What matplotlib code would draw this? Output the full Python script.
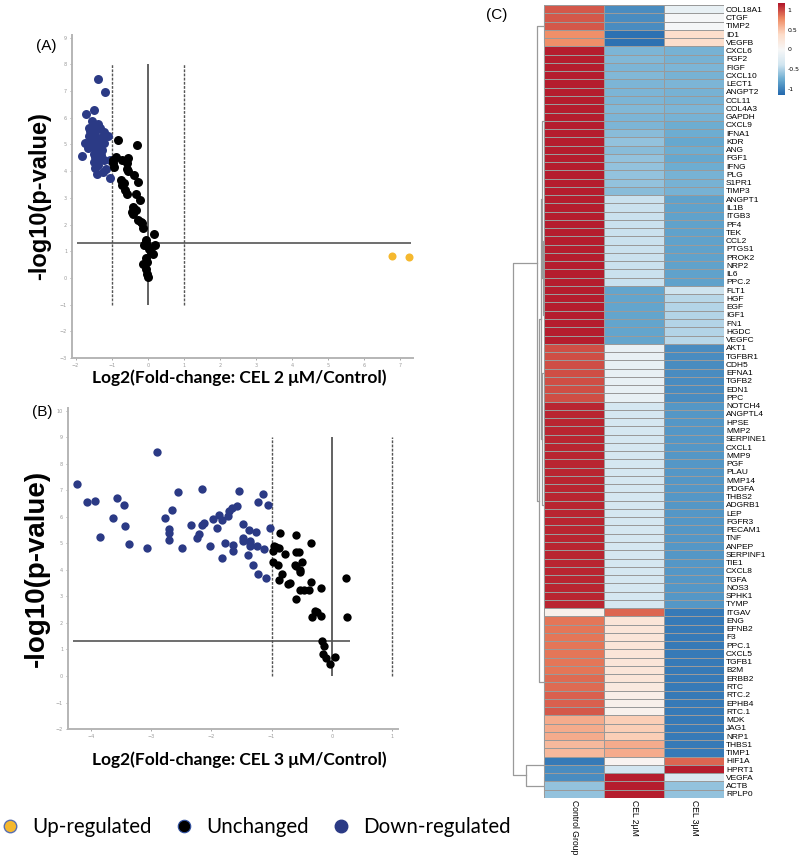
import numpy as np
import matplotlib
matplotlib.use("Agg")
import matplotlib.pyplot as plt
from matplotlib.colors import LinearSegmentedColormap
from matplotlib.lines import Line2D

# ---- panel A: CEL 2 uM vs control ----
a_down_x = [-1.37, -1.19, -1.71, -1.49, -1.55, -1.37, -1.62, -1.55, -1.60, -1.43, -1.50, -1.20,
            -1.11, -1.45, -1.75, -1.52, -1.29, -1.20, -1.66, -1.47, -1.35, -1.43, -1.50, -1.83,
            -1.45, -1.20, -1.06, -1.48, -1.38, -1.45, -1.41, -1.24, -1.06, -1.15, -1.58, -1.38,
            -1.30, -1.55, -1.25, -1.62, -1.35, -1.28, -1.40, -1.50, -1.33, -1.57, -1.42]
a_down_y = [7.45, 6.98, 6.16, 6.29, 5.88, 5.75, 5.60, 5.58, 5.50, 5.54, 5.45, 5.48,
            5.33, 5.35, 5.04, 5.10, 5.10, 5.04, 4.85, 4.85, 4.90, 4.72, 4.65, 4.58,
            4.54, 4.41, 4.41, 4.35, 4.25, 4.12, 3.91, 3.98, 3.76, 4.10, 5.20, 5.20,
            4.60, 4.95, 5.30, 5.30, 4.45, 4.80, 5.00, 5.65, 5.62, 5.42, 4.50]
a_same_x = [-0.82, -0.30, -0.88, -0.97, -0.95, -0.94, -0.70, -0.54, -0.58, -0.58, -0.56, -0.74,
            -0.67, -0.70, -0.62, -0.58, -0.38, -0.28, -0.33, -0.21, -0.42, -0.38, -0.33, -0.45,
            -0.40, -0.28, -0.19, -0.15, -0.12, 0.17, -0.06, -0.08, -0.01, -0.10, 0.19, 0.08,
            0.15, 0.04, -0.06, -0.12, -0.03, -0.04, -0.01, 0.01]
a_same_y = [5.16, 4.98, 4.54, 4.41, 4.29, 4.16, 4.41, 4.48, 4.29, 4.10, 4.00, 3.66,
            3.54, 3.48, 3.29, 3.16, 3.85, 3.58, 3.16, 2.91, 2.66, 2.60, 2.54, 2.48,
            2.41, 2.16, 2.10, 2.04, 1.88, 1.64, 1.41, 1.29, 1.23, 1.25, 1.25, 0.98,
            0.91, 1.10, 0.73, 0.54, 0.60, 0.35, 0.16, 0.04]
a_up_x = [6.78, 7.25]
a_up_y = [0.84, 0.80]

# ---- panel B: CEL 3 uM vs control ----
b_down_x = [-4.23, -4.06, -3.93, -3.85, -3.64, -3.57, -3.45, -3.43, -3.37, -3.06, -2.90, -2.77,
            -2.70, -2.70, -2.71, -2.65, -2.55, -2.48, -2.33, -2.23, -2.20, -2.16, -2.12, -2.15,
            -2.03, -1.97, -1.90, -1.88, -1.83, -1.83, -1.77, -1.73, -1.70, -1.66, -1.64, -1.64,
            -1.58, -1.54, -1.48, -1.48, -1.47, -1.39, -1.37, -1.36, -1.35, -1.36, -1.30, -1.26,
            -1.24, -1.22, -1.23, -1.15, -1.13, -1.09, -1.06, -1.03]
b_down_y = [7.24, 6.55, 6.59, 5.24, 5.96, 6.71, 6.46, 5.65, 4.96, 4.81, 8.46, 5.94,
            5.53, 5.38, 5.14, 6.25, 6.95, 4.81, 5.68, 5.21, 5.36, 5.68, 5.75, 7.03,
            4.90, 5.93, 5.59, 6.05, 5.88, 4.43, 5.00, 6.03, 6.21, 6.34, 4.94, 4.71,
            6.40, 6.99, 5.71, 5.21, 5.09, 4.55, 5.50, 5.09, 5.00, 4.90, 4.18, 5.43,
            4.90, 3.84, 6.56, 6.85, 4.80, 3.71, 6.46, 5.56]
b_same_x = [-0.98, -0.96, -0.93, -0.98, -0.86, -0.87, -0.89, -0.82, -0.87, -0.78, -0.72, -0.70,
            -0.60, -0.60, -0.54, -0.61, -0.59, -0.50, -0.52, -0.53, -0.59, -0.53, -0.46, -0.38,
            -0.35, -0.34, -0.18, -0.32, -0.27, -0.24, -0.18, -0.17, -0.13, -0.15, -0.10, -0.03,
            0.06, 0.24, 0.26]
b_same_y = [4.71, 4.90, 4.85, 4.28, 5.38, 4.84, 4.19, 3.84, 3.63, 4.58, 3.46, 3.50,
            5.30, 4.68, 4.68, 4.18, 4.15, 4.28, 4.00, 3.93, 2.90, 3.25, 3.25, 3.25,
            3.53, 5.03, 3.30, 2.21, 2.45, 2.40, 2.25, 1.31, 1.13, 0.84, 0.68, 0.46,
            0.73, 3.68, 2.21]

# ---- panel C: heatmap ----
genes = ["COL18A1", "CTGF", "TIMP2", "ID1", "VEGFB", "CXCL6", "FGF2", "FIGF", "CXCL10", "LECT1",
         "ANGPT2", "CCL11", "COL4A3", "GAPDH", "CXCL9", "IFNA1", "KDR", "ANG", "FGF1", "IFNG",
         "PLG", "S1PR1", "TIMP3", "ANGPT1", "IL1B", "ITGB3", "PF4", "TEK", "CCL2", "PTGS1",
         "PROK2", "NRP2", "IL6", "PPC.2", "FLT1", "HGF", "EGF", "IGF1", "FN1", "HGDC",
         "VEGFC", "AKT1", "TGFBR1", "CDH5", "EFNA1", "TGFB2", "EDN1", "PPC", "NOTCH4", "ANGPTL4",
         "HPSE", "MMP2", "SERPINE1", "CXCL1", "MMP9", "PGF", "PLAU", "MMP14", "PDGFA", "THBS2",
         "ADGRB1", "LEP", "FGFR3", "PECAM1", "TNF", "ANPEP", "SERPINF1", "TIE1", "CXCL8", "TGFA",
         "NOS3", "SPHK1", "TYMP", "ITGAV", "ENG", "EFNB2", "F3", "PPC.1", "CXCL5", "TGFB1",
         "B2M", "ERBB2", "RTC", "RTC.2", "EPHB4", "RTC.1", "MDK", "JAG1", "NRP1", "THBS1",
         "TIMP1", "HIF1A", "HPRT1", "VEGFA", "ACTB", "RPLP0"]
conditions = ["Control Group", "CEL 2\u03bcM", "CEL 3\u03bcM"]

control = ([0.95, 0.95, 0.95, 0.75, 0.75] + [1.15] * 36 + [0.98] * 7 + [1.12] * 25 + [0.1]
           + [0.85] * 7 + [0.88, 0.88, 0.92, 0.92, 0.95]
           + [0.62, 0.62, 0.62, 0.55, 0.55] + [-1.05, -0.95, -0.95, -0.62, -0.62])
cel2 = ([-0.95, -0.95, -0.95, -1.1, -1.1]
        + [-0.70, -0.68, -0.70, -0.68, -0.70, -0.70, -0.70, -0.68, -0.70, -0.70, -0.65, -0.62,
           -0.65, -0.62, -0.62, -0.62, -0.62, -0.65]
        + [-0.42] * 11 + [-0.80] * 7 + [-0.15] * 7 + [-0.35] * 25 + [0.9]
        + [0.25] * 8 + [0.2, 0.12, 0.1, 0.08]
        + [0.45, 0.45, 0.45, 0.62, 0.62] + [0.05, -0.38, 1.15, 1.15, 1.15])
cel3 = ([-0.15, -0.02, -0.02, 0.35, 0.35]
        + [-0.72, -0.72, -0.70, -0.72, -0.70, -0.72, -0.72, -0.70, -0.72, -0.75, -0.75, -0.78,
           -0.75, -0.78, -0.75, -0.72, -0.72, -0.72]
        + [-0.82] * 11 + [-0.40, -0.48, -0.50, -0.50, -0.50, -0.50, -0.48] + [-0.95] * 7
        + [-0.88] * 25 + [-1.05] * 18 + [0.9, 1.15, -0.30, -0.62, -0.62])

# row clusters (start, stop) used as dendrogram leaves, and the tree (left, right, height)
row_groups = [(0, 5), (5, 23), (23, 34), (34, 41), (41, 48), (48, 73), (73, 91), (91, 93), (93, 96)]
tree = ((0, (((1, (2, 3, 0.03), 0.05), (4, 5, 0.04), 0.08), 6, 0.12), 0.18), (7, 8, 0.47), 0.79)

navy = "#2b3a85"
yellow = "#f5b82e"
line_c = "#555555"
tick_c = "#9a9a9a"


def volcano(ax, down, same, up, xlim, ylim, xticks, yticks, hline_x, size):
    ax.scatter(*down, s=size, color=navy, zorder=3, linewidths=0)
    ax.scatter(*same, s=size, color="black", zorder=3, linewidths=0)
    if up is not None:
        ax.scatter(*up, s=size * 0.8, color=yellow, zorder=3, linewidths=0)
    ax.set_xlim(*xlim)
    ax.set_ylim(*ylim)
    ax.set_xticks(xticks)
    ax.set_yticks(yticks)
    ax.tick_params(labelsize=3.5, colors=tick_c, length=1.5, width=0.6, pad=2)
    for s in ("top", "right"):
        ax.spines[s].set_visible(False)
    for s in ("left", "bottom"):
        ax.spines[s].set_color("#b5b5b5")
        ax.spines[s].set_linewidth(1.4)
    ax.hlines(1.3, *hline_x, color=line_c, lw=1.2, zorder=2)


fig = plt.figure(figsize=(8, 8.59), dpi=100)

# (A)
axA = fig.add_axes([0.09, 0.5832, 0.426, 0.376])
volcano(axA, (a_down_x, a_down_y), (a_same_x, a_same_y), (a_up_x, a_up_y),
        (-2.1, 7.35), (-3, 9.1), range(-2, 8), range(-3, 10), (-1.95, 7.3), 42)
axA.vlines([-1, 1], -1, 8, color=line_c, lw=1.0, linestyles=(0, (2, 1)), zorder=2)
axA.vlines(0, -1, 8, color=line_c, lw=1.3, zorder=2)
axA.set_ylabel("-log10(p-value)", fontsize=17, fontweight="bold", family="Liberation Sans")
axA.yaxis.set_label_coords(-0.06, 0.5)
axA.set_xlabel("Log2(Fold-change: CEL 2 \u03bcM/Control)", fontsize=12.5, fontweight="bold",
               family="Lato")
axA.xaxis.set_label_coords(0.49, -0.035)
fig.text(0.045, 0.947, "(A)", fontsize=11, family="Liberation Sans", va="center")

# (B)
axB = fig.add_axes([0.085, 0.1513, 0.4125, 0.3737])
volcano(axB, (b_down_x, b_down_y), (b_same_x, b_same_y), None,
        (-4.38, 1.1), (-2, 10.1), range(-4, 2), range(-2, 11), (-4.29, 0.3), 36)
axB.vlines([-1, 1], 0, 9, color=line_c, lw=1.0, linestyles=(0, (2, 1)), zorder=2)
axB.vlines(0, 0, 9, color=line_c, lw=1.3, zorder=2)
axB.set_ylabel("-log10(p-value)", fontsize=20, fontweight="bold", family="Liberation Sans")
axB.yaxis.set_label_coords(-0.055, 0.5)
axB.set_xlabel("Log2(Fold-change: CEL 3 \u03bcM/Control)", fontsize=12.5, fontweight="bold",
               family="Lato")
axB.xaxis.set_label_coords(0.518, -0.07)
fig.text(0.04, 0.52, "(B)", fontsize=11, family="Liberation Sans", va="center")

# legend
handles = [Line2D([], [], marker="o", ls="", markersize=9, markerfacecolor=yellow,
                  markeredgecolor="#5a6fb0", markeredgewidth=1),
           Line2D([], [], marker="o", ls="", markersize=9, markerfacecolor="black",
                  markeredgecolor="#3050a0", markeredgewidth=0.8),
           Line2D([], [], marker="o", ls="", markersize=9, markerfacecolor=navy,
                  markeredgecolor=navy)]
fig.legend(handles, ["Up-regulated", "Unchanged", "Down-regulated"], ncol=3, frameon=False,
           loc="center left", bbox_to_anchor=(0.0, 1 - 827 / 859),
           prop={"family": "Lato", "size": 14.8}, handlelength=1.0, handletextpad=0.55,
           columnspacing=1.1, borderpad=0, borderaxespad=0)

# (C) heatmap
cmap = LinearSegmentedColormap.from_list(
    "rdbu7", ["#2166ac", "#67a9cf", "#d1e5f0", "#f7f7f7", "#fddbc7", "#ef8a62", "#b2182b"])
vals = np.column_stack([control, cel2, cel3])
n_rows = len(genes)

axH = fig.add_axes([0.68, 0.0710, 0.225, 0.923])
mesh = axH.pcolormesh(vals, cmap=cmap, vmin=-1.17, vmax=1.17, edgecolors="#9a9a9a", linewidth=0.5)
axH.set_ylim(n_rows, 0)
axH.set_xlim(0, 3)
axH.yaxis.tick_right()
axH.set_yticks(np.arange(n_rows) + 0.5)
axH.set_yticklabels(genes, fontsize=6.0, family=["Liberation Sans Narrow", "Liberation Sans"])
axH.set_xticks(np.arange(3) + 0.5)
axH.set_xticklabels(conditions, rotation=-90, fontsize=6.2, family="Liberation Sans", va="top")
axH.tick_params(length=0, pad=1.5)
for s in axH.spines.values():
    s.set_visible(False)
fig.text(0.607, 0.983, "(C)", fontsize=11, family="Liberation Sans", va="center")

# dendrogram
axD = fig.add_axes([0.631, 0.0710, 0.049, 0.923], sharey=axH)
axD.set_xlim(1.0, 0)
axD.axis("off")
dcol = "#9a9a9a"


def draw(node):
    if isinstance(node, int):
        lo, hi = row_groups[node]
        axD.plot([0.012, 0.012], [lo + 0.5, hi - 0.5], color=dcol, lw=0.8)
        return (lo + hi) / 2, 0.012
    left, right, h = node
    cl, hl = draw(left)
    cr, hr = draw(right)
    axD.plot([hl, h, h, hr], [cl, cl, cr, cr], color=dcol, lw=0.9)
    return (cl + cr) / 2, h


draw(tree)

# colorbar
axC = fig.add_axes([0.9725, 0.889, 0.00875, 0.107])
cb = fig.colorbar(mesh, cax=axC, ticks=[-1, -0.5, 0, 0.5, 1])
cb.outline.set_visible(False)
cb.ax.set_yticklabels(["-1", "-0.5", "0", "0.5", "1"])
cb.ax.tick_params(labelsize=4.5, length=0, pad=2)

fig.savefig("out.png", dpi=100)
